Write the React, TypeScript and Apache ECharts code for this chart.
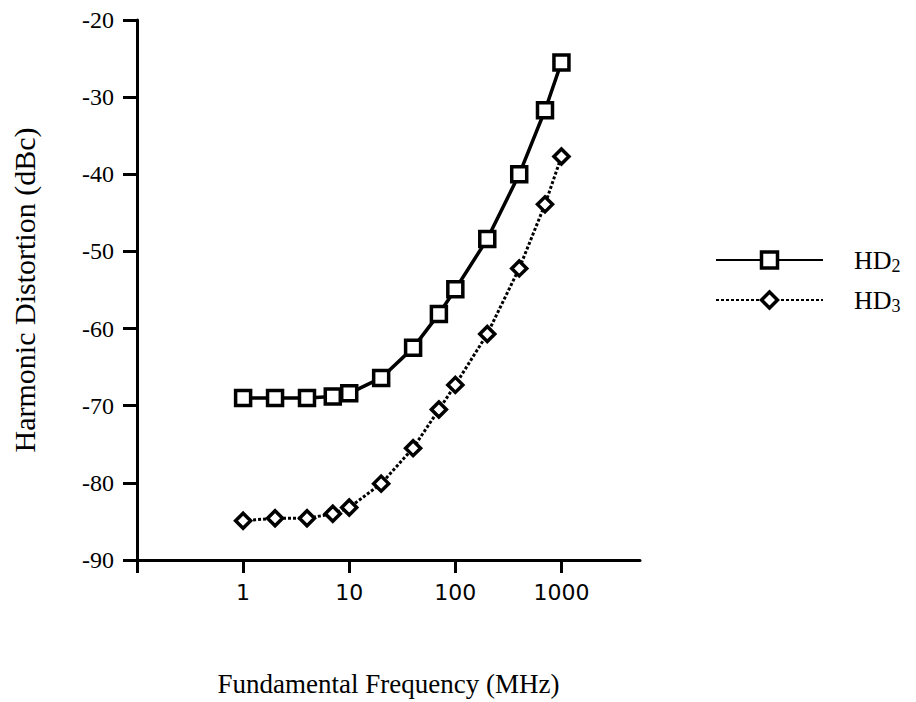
import React, { useEffect, useRef } from "react";
import * as echarts from "echarts";

const frequencies = [1, 2, 4, 7, 10, 20, 40, 70, 100, 200, 400, 700, 1000];
const hd2Values = [-69.0, -69.0, -69.0, -68.8, -68.4, -66.4, -62.5, -58.1, -54.9, -48.4, -40.0, -31.7, -25.5];
const hd3Values = [-84.9, -84.6, -84.6, -84.0, -83.2, -80.1, -75.5, -70.5, -67.3, -60.7, -52.2, -43.9, -37.7];
const xTickValues = [0.1, 1, 10, 100, 1000];
const xLabelValues = [1, 10, 100, 1000];
const seriesNames = ["HD2", "HD3"];

const serif = "'Liberation Serif', 'Times New Roman', serif";
const sans = "'DejaVu Sans', Verdana, sans-serif";

export default function App() {
  const ref = useRef<HTMLDivElement>(null);
  useEffect(() => {
    if (!ref.current) return;
    const chart = echarts.init(ref.current, undefined, { renderer: "svg" });
    const pair = (vals: number[]) => frequencies.map((f, i) => [f, vals[i]]);
    chart.setOption({
      animation: false,
      backgroundColor: "#ffffff",
      grid: { left: 137, right: 276, top: 20, bottom: 142, containLabel: false, outerBoundsMode: "none" },
      legend: {
        orient: "vertical",
        left: 715,
        top: 245,
        padding: 0,
        itemWidth: 107,
        itemHeight: 20,
        itemGap: 10,
        data: seriesNames,
        itemStyle: { color: "#fff", borderColor: "#000", borderWidth: 3.5 },
        formatter: (name: string) => "HD{s|" + name.slice(2) + "}",
        textStyle: {
          fontFamily: serif,
          fontSize: 26,
          lineHeight: 30,
          color: "#000",
          padding: [0, 0, 0, 26],
          rich: {
            s: { fontFamily: serif, fontSize: 18, lineHeight: 18, color: "#000", verticalAlign: "bottom" },
          },
        },
      },
      xAxis: {
        type: "log",
        logBase: 10,
        min: 0.1,
        max: 5500,
        name: "Fundamental Frequency (MHz)",
        nameLocation: "middle",
        nameGap: 110,
        nameTextStyle: { fontFamily: serif, fontSize: 27, color: "#000" },
        axisLine: { onZero: false, lineStyle: { color: "#000", width: 3 } },
        axisTick: { show: true, length: 13, lineStyle: { color: "#000", width: 3 }, customValues: xTickValues },
        axisLabel: {
          margin: 21,
          fontFamily: sans,
          fontSize: 22,
          color: "#000",
          customValues: xLabelValues,
          formatter: (v: number) => (xLabelValues.indexOf(Math.round(v)) >= 0 && v >= 1 ? String(Math.round(v)) : ""),
        },
        splitLine: { show: false },
        minorTick: { show: false },
      },
      yAxis: {
        type: "value",
        min: -90,
        max: -20,
        interval: 10,
        name: "Harmonic Distortion (dBc)",
        nameLocation: "middle",
        nameGap: 98,
        nameTextStyle: { fontFamily: serif, fontSize: 30, color: "#000" },
        axisLine: { show: true, onZero: false, lineStyle: { color: "#000", width: 3 } },
        axisTick: { show: true, length: 14, lineStyle: { color: "#000", width: 3 } },
        axisLabel: { margin: 23, fontFamily: serif, fontSize: 24, color: "#000" },
        splitLine: { show: false },
      },
      series: [
        {
          name: seriesNames[0],
          type: "line",
          data: pair(hd2Values),
          symbol: "rect",
          symbolSize: 15,
          showAllSymbol: true,
          lineStyle: { color: "#000", width: 3.5, type: "solid" },
          itemStyle: { color: "#fff", borderColor: "#000", borderWidth: 3.5 },
          z: 3,
        },
        {
          name: seriesNames[1],
          type: "line",
          data: pair(hd3Values),
          symbol: "diamond",
          symbolSize: 15,
          showAllSymbol: true,
          lineStyle: { color: "#000", width: 3, type: [3, 2] },
          itemStyle: { color: "#fff", borderColor: "#000", borderWidth: 3.5 },
          z: 3,
        },
      ],
    });
    return () => chart.dispose();
  }, []);
  return (
    <div
      ref={ref}
      style={{ position: "fixed", left: 0, top: 0, width: 916, height: 702, background: "#fff" }}
    />
  );
}
